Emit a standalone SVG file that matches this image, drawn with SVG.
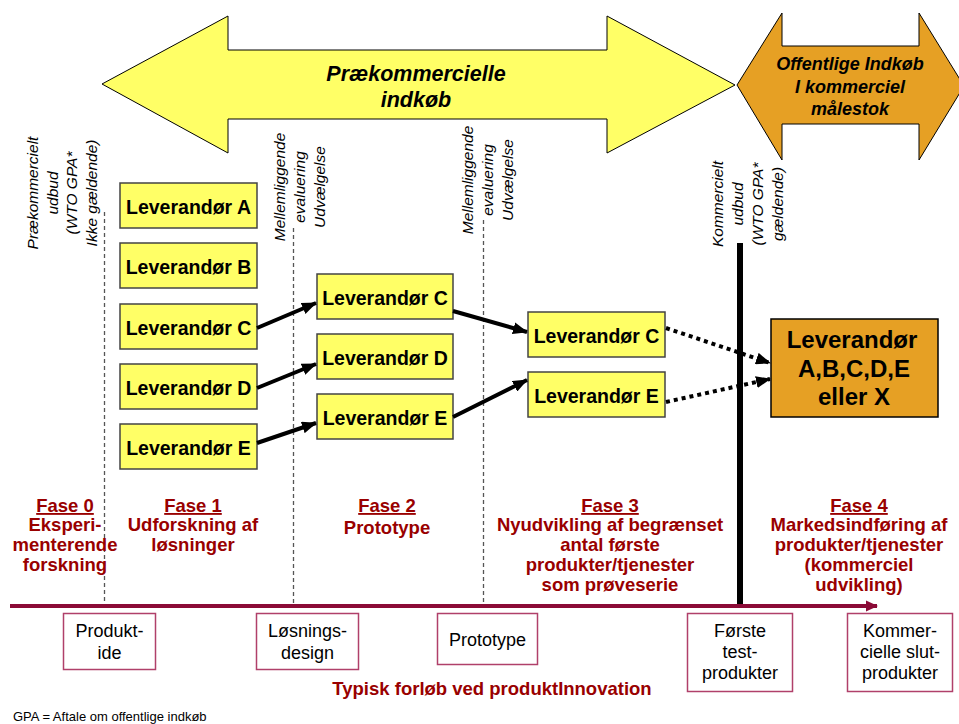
<svg xmlns="http://www.w3.org/2000/svg" width="959" height="724" viewBox="0 0 959 724">
<defs>
<style>
.big{fill:#FFFF66;stroke:#000;stroke-width:1}
.org{fill:#E6A024;stroke:#000;stroke-width:1}
.ybox{fill:#FFFF66;stroke:#444;stroke-width:1.5}
.lev{font-family:"Liberation Sans",Arial,sans-serif;font-weight:bold;font-size:19.5px;fill:#000;text-anchor:middle}
.rot{font-family:"Liberation Sans",Arial,sans-serif;font-style:italic;font-size:15.5px;fill:#000;text-anchor:middle}
.dash{stroke:#555;stroke-width:1.3;stroke-dasharray:4 3;fill:none}
.fase{font-family:"Liberation Sans",Arial,sans-serif;font-weight:bold;font-size:18.5px;fill:#990000;text-anchor:middle}
.pbox{fill:#fff;stroke:#B0406A;stroke-width:1.5}
.ptxt{font-family:"Liberation Sans",Arial,sans-serif;font-size:18px;fill:#000;text-anchor:middle}
.conn{stroke:#000;stroke-width:4;fill:none}
.dot{stroke:#000;stroke-width:4;fill:none;stroke-dasharray:4 4}
</style>
<marker id="ah" markerUnits="userSpaceOnUse" markerWidth="15" markerHeight="12" refX="14" refY="6" orient="auto">
<path d="M0,0 L15,6 L0,12 z" fill="#000"/>
</marker>
<marker id="axh" markerUnits="userSpaceOnUse" markerWidth="12" markerHeight="12" refX="11" refY="6" orient="auto">
<path d="M0,0.5 L12,6 L0,11.5 z" fill="#8B0A36"/>
</marker>
</defs>
<rect width="959" height="724" fill="#fff"/>

<g id="arrow-prekommercielle">
<polygon class="big" points="102,84 228,16 228,50 607,50 607,16 735,85 607,153 607,119 228,119 228,153"/>
<text font-family="Liberation Sans, Arial, sans-serif" font-weight="bold" font-style="italic" font-size="21.5" text-anchor="middle" x="416" y="81">Prækommercielle</text>
<text font-family="Liberation Sans, Arial, sans-serif" font-weight="bold" font-style="italic" font-size="21.5" text-anchor="middle" x="416" y="107">indkøb</text>
</g>

<g id="arrow-offentlige">
<polygon class="org" points="737,85 782,13 782,46 919,46 919,13 964,86 919,160 919,124 782,124 782,160"/>
<text font-family="Liberation Sans, Arial, sans-serif" font-weight="bold" font-style="italic" font-size="18" text-anchor="middle" x="850" y="70">Offentlige Indkøb</text>
<text font-family="Liberation Sans, Arial, sans-serif" font-weight="bold" font-style="italic" font-size="18" text-anchor="middle" x="850" y="93">I kommerciel</text>
<text font-family="Liberation Sans, Arial, sans-serif" font-weight="bold" font-style="italic" font-size="18" text-anchor="middle" x="850" y="115">målestok</text>
</g>

<g id="milestone-labels">
<text class="rot" transform="translate(38,193) rotate(-90)"><tspan x="0" y="0">Prækommercielt</tspan><tspan x="0" y="20">udbud</tspan><tspan x="0" y="39">(WTO GPA*</tspan><tspan x="0" y="59">Ikke gældende)</tspan></text>
<text class="rot" transform="translate(285,187) rotate(-90)"><tspan x="0" y="0">Mellemliggende</tspan><tspan x="0" y="20">evaluering</tspan><tspan x="0" y="40">Udvælgelse</tspan></text>
<text class="rot" transform="translate(473,180) rotate(-90)"><tspan x="0" y="0">Mellemliggende</tspan><tspan x="0" y="20">evaluering</tspan><tspan x="0" y="40">Udvælgelse</tspan></text>
<text class="rot" transform="translate(723,204) rotate(-90)"><tspan x="0" y="0">Kommercielt</tspan><tspan x="0" y="20">udbud</tspan><tspan x="0" y="40">(WTO GPA*</tspan><tspan x="0" y="60">gældende)</tspan></text>
</g>

<g id="dividers">
<line class="dash" x1="104.5" y1="212" x2="104.5" y2="603"/>
<line class="dash" x1="293.5" y1="228" x2="293.5" y2="603"/>
<line class="dash" x1="483.5" y1="220" x2="483.5" y2="603"/>
<line x1="740" y1="243" x2="740" y2="604" stroke="#000" stroke-width="6"/>
</g>

<g id="lev-A1"><rect class="ybox" x="120" y="183" width="137" height="45"/><text class="lev" x="188.5" y="214">Leverandør A</text></g>
<g id="lev-B1"><rect class="ybox" x="120" y="243" width="137" height="45"/><text class="lev" x="188.5" y="274">Leverandør B</text></g>
<g id="lev-C1"><rect class="ybox" x="120" y="304" width="137" height="45"/><text class="lev" x="188.5" y="335">Leverandør C</text></g>
<g id="lev-D1"><rect class="ybox" x="120" y="364" width="137" height="45"/><text class="lev" x="188.5" y="395">Leverandør D</text></g>
<g id="lev-E1"><rect class="ybox" x="120" y="424" width="137" height="45"/><text class="lev" x="188.5" y="455">Leverandør E</text></g>

<g id="lev-C2"><rect class="ybox" x="317" y="274" width="136" height="45"/><text class="lev" x="385" y="305">Leverandør C</text></g>
<g id="lev-D2"><rect class="ybox" x="317" y="334" width="136" height="45"/><text class="lev" x="385" y="365">Leverandør D</text></g>
<g id="lev-E2"><rect class="ybox" x="317" y="394" width="136" height="45"/><text class="lev" x="385" y="425">Leverandør E</text></g>

<g id="lev-C3"><rect class="ybox" x="528" y="312" width="137" height="45"/><text class="lev" x="596.5" y="343">Leverandør C</text></g>
<g id="lev-E3"><rect class="ybox" x="528" y="372" width="137" height="45"/><text class="lev" x="596.5" y="403">Leverandør E</text></g>

<g id="lev-final">
<rect x="771" y="319" width="167" height="98" fill="#E6A024" stroke="#000" stroke-width="1.5"/>
<text font-family="Liberation Sans, Arial, sans-serif" font-weight="bold" font-size="24" text-anchor="middle" x="852" y="348">Leverandør</text>
<text font-family="Liberation Sans, Arial, sans-serif" font-weight="bold" font-size="24" text-anchor="middle" x="854" y="377">A,B,C,D,E</text>
<text font-family="Liberation Sans, Arial, sans-serif" font-weight="bold" font-size="24" text-anchor="middle" x="854" y="405">eller X</text>
</g>

<g id="connectors">
<line class="conn" x1="257" y1="328" x2="316" y2="303" marker-end="url(#ah)"/>
<line class="conn" x1="257" y1="388" x2="316" y2="364" marker-end="url(#ah)"/>
<line class="conn" x1="257" y1="443" x2="316" y2="423" marker-end="url(#ah)"/>
<line class="conn" x1="453" y1="311" x2="527" y2="332" marker-end="url(#ah)"/>
<line class="conn" x1="453" y1="417" x2="527" y2="380" marker-end="url(#ah)"/>
<line class="dot" x1="666" y1="328" x2="770" y2="363" marker-end="url(#ah)"/>
<line class="dot" x1="666" y1="402" x2="770" y2="379" marker-end="url(#ah)"/>
<line x1="10" y1="606" x2="877" y2="606" stroke="#8B0A36" stroke-width="4" marker-end="url(#axh)"/>
</g>

<g id="phases">
<text class="fase" x="65" y="512" text-decoration="underline">Fase 0</text>
<text class="fase" x="65" y="531">Eksperi-</text>
<text class="fase" x="65" y="551">menterende</text>
<text class="fase" x="65" y="571">forskning</text>

<text class="fase" x="193" y="512" text-decoration="underline">Fase 1</text>
<text class="fase" x="193" y="531">Udforskning af</text>
<text class="fase" x="193" y="551">løsninger</text>

<text class="fase" x="387" y="512" text-decoration="underline">Fase 2</text>
<text class="fase" x="387" y="534">Prototype</text>

<text class="fase" x="610" y="512" text-decoration="underline">Fase 3</text>
<text class="fase" x="610" y="531">Nyudvikling af begrænset</text>
<text class="fase" x="610" y="551">antal første</text>
<text class="fase" x="610" y="571">produkter/tjenester</text>
<text class="fase" x="610" y="591">som prøveserie</text>

<text class="fase" x="859" y="512" text-decoration="underline">Fase 4</text>
<text class="fase" x="859" y="531">Markedsindføring af</text>
<text class="fase" x="859" y="551">produkter/tjenester</text>
<text class="fase" x="859" y="571">(kommerciel</text>
<text class="fase" x="859" y="591">udvikling)</text>
</g>

<g id="stage-produktide"><rect class="pbox" x="63.5" y="613.5" width="92" height="56"/><text class="ptxt" x="109.5" y="637">Produkt-</text><text class="ptxt" x="109.5" y="659">ide</text></g>
<g id="stage-losningsdesign"><rect class="pbox" x="256.5" y="613.5" width="102" height="56"/><text class="ptxt" x="307.5" y="637">Løsnings-</text><text class="ptxt" x="307.5" y="659">design</text></g>
<g id="stage-prototype"><rect class="pbox" x="437.5" y="613.5" width="100" height="51"/><text class="ptxt" x="487.5" y="646">Prototype</text></g>
<g id="stage-forste"><rect class="pbox" x="687.5" y="613.5" width="105" height="78"/><text class="ptxt" x="740" y="637">Første</text><text class="ptxt" x="740" y="658">test-</text><text class="ptxt" x="740" y="679">produkter</text></g>
<g id="stage-kommercielle"><rect class="pbox" x="847.5" y="613.5" width="105" height="78"/><text class="ptxt" x="900" y="637">Kommer-</text><text class="ptxt" x="900" y="658">cielle slut-</text><text class="ptxt" x="900" y="679">produkter</text></g>

<text class="fase" x="492" y="695">Typisk forløb ved produktInnovation</text>
<text font-family="Liberation Sans, Arial, sans-serif" font-size="13" x="13" y="721">GPA = Aftale om offentlige indkøb</text>
</svg>
